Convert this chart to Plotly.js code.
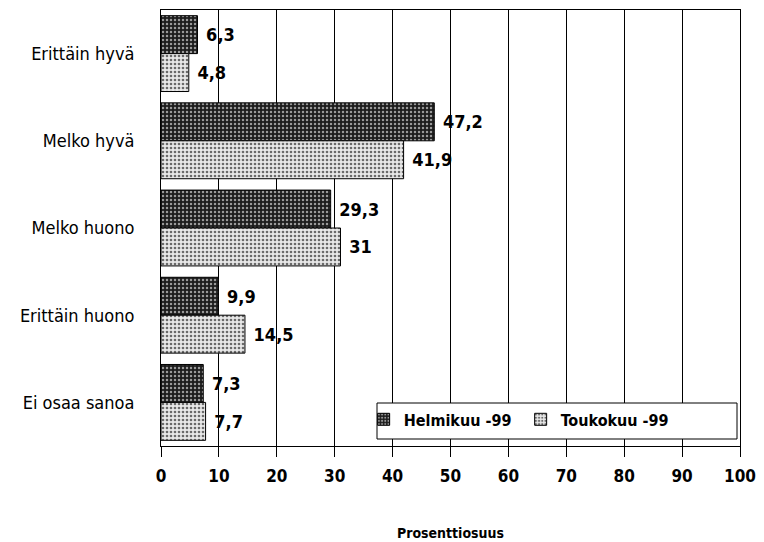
<!DOCTYPE html>
<html>
<head>
<meta charset="utf-8">
<script src="https://cdn.plot.ly/plotly-3.0.1.min.js"></script>
<style>
html,body{margin:0;padding:0;background:#fff;}
#chart{width:764px;height:542px;}
</style>
</head>
<body>
<div id="chart"></div>
<script>
const categories = ["Erittäin hyvä", "Melko hyvä", "Melko huono", "Erittäin huono", "Ei osaa sanoa"];
const seriesNames = ["Helmikuu -99", "Toukokuu -99"];
const helmikuu = [6.3, 47.2, 29.3, 9.9, 7.3];
const toukokuu = [4.8, 41.9, 31, 14.5, 7.7];
const xTicks = [0, 10, 20, 30, 40, 50, 60, 70, 80, 90, 100];
const xTitle = "Prosenttiosuus";

const FONT = '"Liberation Sans Narrow", "DejaVu Sans Condensed", Arial, sans-serif';
const fmt = v => ' ' + String(v).replace('.', ',');

const traces = [
  {
    type: 'bar', orientation: 'h', name: seriesNames[0],
    y: categories, x: helmikuu,
    text: helmikuu.map(fmt), textposition: 'outside', cliponaxis: false,
    textfont: {family: FONT, size: 18, color: '#000', weight: 'bold'},
    marker: {color: '#1c1c1c', line: {color: '#000', width: 1},
      pattern: {shape: '.', fgcolor: '#9a9a9a', bgcolor: '#1c1c1c', size: 4, solidity: 0.3}},
    hoverinfo: 'none'
  },
  {
    type: 'bar', orientation: 'h', name: seriesNames[1],
    y: categories, x: toukokuu,
    text: toukokuu.map(fmt), textposition: 'outside', cliponaxis: false,
    textfont: {family: FONT, size: 18, color: '#000', weight: 'bold'},
    marker: {color: '#d0d0d0', line: {color: '#000', width: 1},
      pattern: {shape: '.', fgcolor: '#6a6a6a', bgcolor: '#e8e8e8', size: 4, solidity: 0.35}},
    hoverinfo: 'none'
  }
];

const layout = {
  width: 764, height: 542,
  margin: {l: 161, r: 24, t: 10, b: 96, autoexpand: false},
  paper_bgcolor: '#fff', plot_bgcolor: '#fff',
  font: {family: FONT, color: '#000', size: 16},
  barmode: 'group', bargap: 0.13, bargroupgap: 0,
  showlegend: true,
  legend: {
    orientation: 'h', x: 0.35, y: 0.022, xanchor: 'left', yanchor: 'bottom',
    bgcolor: 'rgba(0,0,0,0)', borderwidth: 0,
    font: {family: FONT, size: 16, color: '#000', weight: 'bold'},
    itemwidth: 30, entrywidth: 112, traceorder: 'normal'
  },
  shapes: [{
    type: 'rect', xref: 'paper', yref: 'paper',
    x0: (377 - 161) / 579, x1: (737 - 161) / 579,
    y0: (446 - 439) / 436, y1: (446 - 403) / 436,
    line: {color: '#000', width: 1}, fillcolor: '#fff', layer: 'above'
  }],
  xaxis: {
    range: [0, 100], tickvals: xTicks, ticktext: xTicks.map(String),
    showgrid: true, gridcolor: '#000', gridwidth: 1,
    showline: true, linecolor: '#000', linewidth: 1, mirror: true,
    ticks: 'outside', ticklen: 10, tickcolor: '#000', ticklabelstandoff: 5,
    tickfont: {family: FONT, size: 17, color: '#000', weight: 'bold'},
    zeroline: false, fixedrange: true,
    title: {text: xTitle, standoff: 42, font: {family: FONT, size: 14, color: '#000', weight: 'bold'}}
  },
  yaxis: {
    autorange: 'reversed', type: 'category',
    showline: true, linecolor: '#000', linewidth: 1, mirror: true,
    showgrid: false, ticks: '', ticklabelstandoff: 22,
    tickfont: {family: FONT, size: 18, color: '#000'},
    fixedrange: true
  }
};

Plotly.newPlot('chart', traces, layout, {displayModeBar: false, staticPlot: true});
</script>
</body>
</html>
